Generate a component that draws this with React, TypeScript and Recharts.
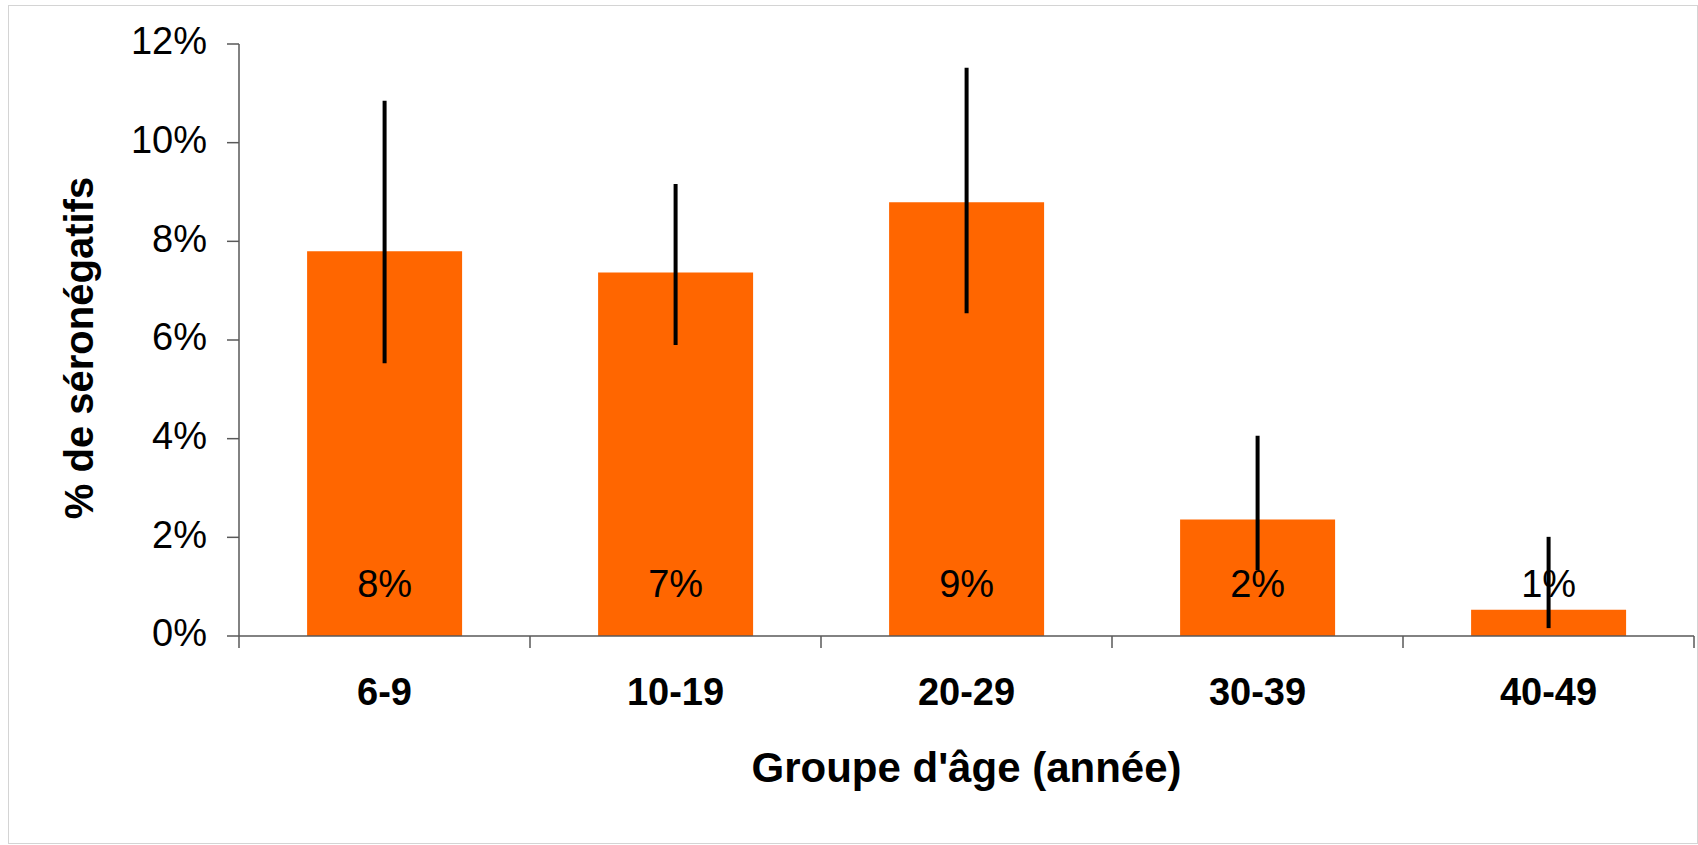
import { BarChart, Bar, XAxis, YAxis, ErrorBar, LabelList } from "recharts";

const ageGroups = ["6-9", "10-19", "20-29", "30-39", "40-49"];
const seronegatifs = [7.8, 7.37, 8.79, 2.36, 0.53];
const ciLow = [5.53, 5.9, 6.54, 1.34, 0.16];
const ciHigh = [10.85, 9.16, 11.52, 4.06, 2.01];
const yTicks = [0, 2, 4, 6, 8, 10, 12];

const data = ageGroups.map((group, i) => ({
  group,
  value: seronegatifs[i],
  err: [seronegatifs[i] - ciLow[i], ciHigh[i] - seronegatifs[i]],
}));

const FONT = "'Liberation Sans', Arial, sans-serif";
const AXIS = "#595959";
const TICK_MARGIN = 42;

// category label plus the tick marks between categories (spreadsheet style)
function CategoryTick(props: any) {
  const { x, y, payload, index, visibleTicksCount } = props;
  const half = payload.offset || 0;
  const axisY = y - TICK_MARGIN;
  const last = index === visibleTicksCount - 1;
  return (
    <g>
      <line x1={x - half} x2={x - half} y1={axisY} y2={axisY + 12} stroke={AXIS} strokeWidth={1.5} />
      {last && <line x1={x + half} x2={x + half} y1={axisY} y2={axisY + 12} stroke={AXIS} strokeWidth={1.5} />}
      <text
        x={x}
        y={y}
        dy="0.71em"
        textAnchor="middle"
        fontFamily={FONT}
        fontWeight="bold"
        fontSize={38}
        fill="#000"
      >
        {payload.value}
      </text>
    </g>
  );
}

function YTitle(props: any) {
  const vb = props.viewBox;
  const x = vb.x + 93;
  const y = vb.y + vb.height / 2 + 8;
  return (
    <text
      x={x}
      y={y}
      transform={`rotate(-90 ${x} ${y})`}
      textAnchor="middle"
      fontFamily={FONT}
      fontWeight="bold"
      fontSize={40}
      fill="#000"
    >
      % de séronégatifs
    </text>
  );
}

function XTitle(props: any) {
  const vb = props.viewBox;
  return (
    <text
      x={vb.x + vb.width / 2}
      y={vb.y + 146}
      textAnchor="middle"
      fontFamily={FONT}
      fontWeight="bold"
      fontSize={42}
      fill="#000"
    >
      Groupe d'âge (année)
    </text>
  );
}

export default function App() {
  return (
    <div style={{ position: "absolute", left: 0, top: 0, width: 1698, height: 845, background: "#fff" }}>
      <div
        style={{
          position: "absolute",
          left: 8,
          top: 5,
          width: 1688,
          height: 837,
          border: "1px solid #d4d4d4",
        }}
      />
      <div style={{ position: "absolute", left: 0, top: 0 }}>
        <BarChart
          width={1698}
          height={845}
          data={data}
          margin={{ top: 44, right: 4, bottom: 0, left: 0 }}
          barCategoryGap="23.4%"
        >
          <XAxis
            dataKey="group"
            interval={0}
            tickLine={false}
            tickSize={0}
            tickMargin={TICK_MARGIN}
            height={209}
            axisLine={{ stroke: AXIS, strokeWidth: 1.5 }}
            tick={<CategoryTick />}
            label={XTitle}
          />
          <YAxis
            domain={[0, 12]}
            ticks={yTicks}
            interval={0}
            width={239}
            tickSize={12}
            tickMargin={20}
            tickFormatter={(v: number) => `${v}%`}
            axisLine={{ stroke: AXIS, strokeWidth: 1.5 }}
            tickLine={{ stroke: AXIS, strokeWidth: 1.5 }}
            tick={{ fontFamily: FONT, fontSize: 38, fill: "#000", dy: -3 }}
            label={YTitle}
          />
          <Bar dataKey="value" fill="#FF6600" isAnimationActive={false}>
            <LabelList
              dataKey="value"
              position="insideBottom"
              offset={39}
              formatter={(v: any) => `${Math.round(Number(v))}%`}
              style={{ fontFamily: FONT, fontSize: 38, fill: "#000" }}
            />
            <ErrorBar dataKey="err" width={0} stroke="#000" strokeWidth={4} isAnimationActive={false} />
          </Bar>
        </BarChart>
      </div>
    </div>
  );
}
